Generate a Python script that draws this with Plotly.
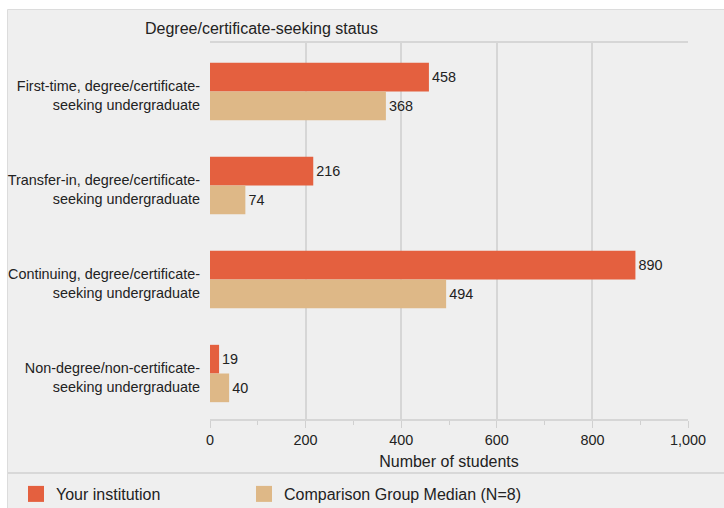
import plotly.graph_objects as go

categories = [
    "First-time, degree/certificate-<br>seeking undergraduate",
    "Transfer-in, degree/certificate-<br>seeking undergraduate",
    "Continuing, degree/certificate-<br>seeking undergraduate",
    "Non-degree/non-certificate-<br>seeking undergraduate",
]
your_institution = [458, 216, 890, 19]
comparison_median = [368, 74, 494, 40]
series_names = ["Your institution", "Comparison Group Median (N=8)"]
series_colors = ["#E4603F", "#DEB887"]
x_ticks = [0, 200, 400, 600, 800, 1000]

W, H = 724, 508
FONT = "Arial"
SMALL = 14.4
BIG = 16

fig = go.Figure()
for vals, name, color in zip([your_institution, comparison_median], series_names, series_colors):
    fig.add_trace(go.Bar(
        y=categories, x=vals, orientation="h", name=name,
        marker=dict(color=color, line=dict(width=0)),
        text=[str(v) for v in vals], textposition="outside",
        textfont=dict(size=SMALL, color="#222222", family=FONT), cliponaxis=False,
        showlegend=False, hoverinfo="x+name",
    ))

# legend proxies (larger square swatches than the default bar swatch)
for i, (name, color) in enumerate(zip(series_names, series_colors)):
    fig.add_trace(go.Scatter(
        x=[None], y=[None], mode="markers", name=name,
        marker=dict(symbol="square", size=16, color=color, line=dict(width=0)),
        legend="legend" if i == 0 else "legend2", showlegend=True,
    ))

px = lambda x: x / W
py = lambda y: 1 - y / H

leg_common = dict(
    orientation="h", xanchor="left", yanchor="middle",
    bgcolor="rgba(0,0,0,0)", font=dict(size=BIG, color="#222222", family=FONT),
    itemclick=False, itemdoubleclick=False,
)

n = len(categories)
shift = 0.016

fig.update_layout(
    width=W, height=H,
    margin=dict(l=0, r=0, t=0, b=0, autoexpand=False),
    paper_bgcolor="white",
    plot_bgcolor="#efefef",
    font=dict(family=FONT, size=SMALL, color="#222222"),
    barmode="group", bargap=0.39, bargroupgap=0,
    xaxis=dict(
        domain=[px(210), px(688)], range=[0, 1000], tickvals=x_ticks,
        tickformat=",", showgrid=True, gridcolor="#d6d6d6", gridwidth=2,
        showline=True, linecolor="#d6d6d6", linewidth=2, mirror=True,
        ticks="outside", ticklen=7, tickwidth=1, tickcolor="#d0d0d0",
        minor=dict(dtick=100, ticks="outside", ticklen=4, tickcolor="#d0d0d0", showgrid=False),
        zeroline=False, automargin=False, fixedrange=True,
        tickfont=dict(size=SMALL, color="#222222"),
        title=dict(text="Number of students", font=dict(size=BIG, color="#222222"), standoff=9),
    ),
    yaxis=dict(
        domain=[py(419), py(43)], range=[n - 0.5 - shift, -0.5 - shift], showgrid=False,
        showline=False, ticks="", automargin=False, ticklabelstandoff=9,
        ticklabelshift=-4,
        tickfont=dict(size=SMALL, color="#222222"), fixedrange=True,
    ),
    showlegend=True,
    legend=dict(x=px(16), y=py(494), **leg_common),
    legend2=dict(x=px(244), y=py(494), **leg_common),
    shapes=[
        dict(type="rect", xref="paper", yref="paper", x0=px(7.5), x1=1.01, y0=-0.01, y1=py(9.5),
             fillcolor="#efefef", line=dict(color="#dcdcdc", width=1), layer="below"),
        dict(type="line", xref="paper", yref="paper", x0=px(8), x1=1, y0=py(473), y1=py(473),
             line=dict(color="#d8d8d8", width=2), layer="below"),
    ],
    annotations=[
        dict(text="Degree/certificate-seeking status", xref="paper", yref="paper",
             x=px(261), y=py(28), xanchor="center", yanchor="middle", showarrow=False,
             font=dict(size=BIG, color="#222222")),
    ],
)

fig.write_html(
    "out.html",
    config={"displayModeBar": False},
    post_script="document.body.style.margin='0';document.body.style.overflow='hidden';",
)
